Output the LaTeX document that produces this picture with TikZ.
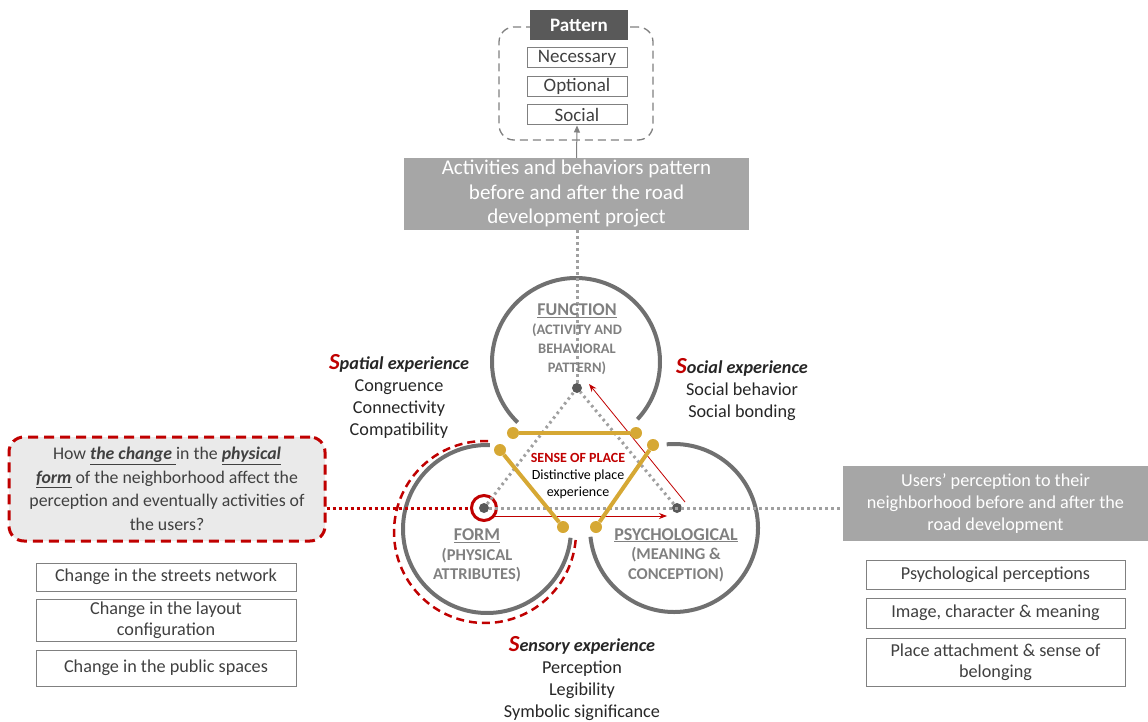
\documentclass[tikz,border=0pt]{standalone}
\usepackage{fontspec}
\setmainfont{Carlito}
\usepackage{xcolor}
\usepackage{tikz}
\usetikzlibrary{positioning,shapes,arrows.meta}

\definecolor{ringgray}{RGB}{112,112,112}
\definecolor{dotgray}{RGB}{160,160,160}
\definecolor{boxgray}{RGB}{166,166,166}
\definecolor{headgray}{RGB}{89,89,89}
\definecolor{darkred}{RGB}{192,0,0}
\definecolor{gold}{RGB}{214,168,52}
\definecolor{txtgray}{RGB}{64,64,64}
\definecolor{lblgray}{RGB}{128,128,128}
\definecolor{qfill}{RGB}{234,234,234}

\newcommand{\expHead}[2]{{\color{darkred}\fontsize{23}{22}\selectfont\bfseries\itshape #1}{\bfseries\itshape #2}}
\newcommand{\keyword}[1]{\underline{\textbf{\textit{#1}}}}
\newcommand{\ringHead}[1]{{\fontsize{18}{19}\selectfont\underline{#1}}}

\tikzset{
  greybox/.style={fill=boxgray, text=white, align=center, inner sep=0pt},
  listbox/.style={draw=lblgray, line width=1pt, text=txtgray, align=center, inner sep=0pt, font=\fontsize{18.2}{21.5}\selectfont},
  circlbl/.style={text=lblgray, align=center, font=\fontsize{16.5}{19.5}\selectfont\bfseries},
  exptext/.style={text=black!85, align=center, font=\fontsize{18.2}{22}\selectfont},
  ringline/.style={draw=ringgray, line width=4pt},
  dotline/.style={draw=dotgray, line width=3pt, dash pattern=on 2.5pt off 3.5pt},
  goldline/.style={draw=gold, line width=4pt},
  golddot/.style={circle, fill=gold, inner sep=0pt, minimum size=12pt},
  centredot/.style={circle, fill=headgray, inner sep=0pt, minimum size=10pt},
  redarrow/.style={draw=darkred, line width=0.8pt, -{Stealth[length=8pt,width=6pt]}}
}

\begin{document}
\begin{tikzpicture}[x=1pt, y=1pt, >=stealth]
  \useasboundingbox (0,0) rectangle (1148,-722);

  % pattern group
  \node[draw=lblgray, dashed, line width=1.3pt, dash pattern=on 8pt off 5pt, rounded corners=15pt, minimum width=154pt, minimum height=113pt] (patgroup) at (576,-83.5) {};
  \node[fill=headgray, text=white, font=\fontsize{19}{20}\selectfont\bfseries, minimum width=98pt, minimum height=30pt, inner sep=0pt] (pattern) at (579,-25) {Pattern};
  \node[listbox, minimum width=100pt, minimum height=20pt, font=\fontsize{19}{20}\selectfont] (necessary) at (577,-58) {Necessary};
  \node[listbox, minimum width=100pt, minimum height=20pt, font=\fontsize{19}{20}\selectfont, below=7.5pt of necessary] (optional) {Optional};
  \node[listbox, minimum width=100pt, minimum height=20pt, font=\fontsize{19}{20}\selectfont, below=7.5pt of optional] (social) {Social};

  \node[greybox, minimum width=345pt, minimum height=72pt, font=\fontsize{21}{24.5}\selectfont] (activity) at (576.5,-194) {Activities and behaviors pattern\\before and after the road\\development project};
  \draw[draw=lblgray, line width=1pt, -{Triangle[length=7pt,width=6pt]}] (activity.north) -- (social.south);

  % three rings
  \coordinate (cfun) at (576,-362);
  \coordinate (cform) at (487,-529);
  \coordinate (cpsy) at (674,-528);
  \draw[ringline] ([shift={(-43:84pt)}]cfun) arc[start angle=-43, end angle=226, radius=84pt];
  \draw[ringline] ([shift={(88:84pt)}]cform) arc[start angle=88, end angle=354, radius=84pt];
  \draw[ringline] ([shift={(186:84pt)}]cpsy) arc[start angle=186, end angle=455, radius=84pt];
  \draw[draw=darkred, line width=2.5pt, dash pattern=on 8pt off 5pt] ([shift={(88:91pt)}]485,-532) arc[start angle=88, end angle=356, radius=91pt];

  % side boxes
  \node[draw=darkred, line width=3pt, dash pattern=on 10pt off 6pt, rounded corners=15pt, fill=qfill, minimum width=316pt, minimum height=104pt, text=txtgray, align=center, inner sep=0pt, font=\fontsize{17.8}{23.5}\selectfont] (question) at (167,-489)
    {How \keyword{the change }in the \keyword{physical}\\\keyword{form} of the neighborhood affect the\\perception and eventually activities of\\the users?};
  \node[greybox, minimum width=305pt, minimum height=75pt, font=\fontsize{18.2}{22}\selectfont] (users) at (995.5,-503.5) {Users' perception to their\\neighborhood before and after the\\road development};

  % centre dots
  \node[centredot] (dfun) at (577,-388) {};
  \node[centredot] (dform) at (484,-508) {};
  \node[centredot] (dpsy) at (677,-508) {};
  \node[draw=darkred, circle, line width=3pt, minimum size=25pt, inner sep=0pt] (ring) at (dform) {};

  \draw[dotline] (dfun) -- (dfun |- activity.south);
  \draw[dotline] (dform) -- (dfun);
  \draw[dotline] (dpsy) -- (dfun);
  \draw[dotline] (dform) -- (dform -| users.west);
  \draw[draw=darkred, line width=3pt, dash pattern=on 3pt off 3pt] (dform -| question.east) -- (ring.west);

  \draw[redarrow] ([shift={(10pt,-8pt)}]dform.center) -- ([shift={(-10pt,-8pt)}]dpsy.center);
  \draw[redarrow] ([shift={(8pt,6pt)}]dpsy.center) -- ([shift={(12pt,4pt)}]dfun.center);

  % sense of place
  \node[golddot] (g1) at (513,-433) {};
  \node[golddot] (g2) at (636,-433) {};
  \node[golddot] (g3) at (500,-450) {};
  \node[golddot] (g4) at (563,-527) {};
  \node[golddot] (g5) at (653,-445) {};
  \node[golddot] (g6) at (596,-527) {};
  \draw[goldline] (g1) -- (g2);
  \draw[goldline] (g3) -- (g4);
  \draw[goldline] (g5) -- (g6);
  \node[align=center, font=\fontsize{14}{17}\selectfont] (sense) at (578,-476) {{\color{darkred}\bfseries SENSE OF PLACE}\\Distinctive place\\experience};

  % ring labels
  \node[circlbl, font=\fontsize{14.5}{19}\selectfont\bfseries] (function) at (577,-339) {\ringHead{FUNCTION}\\(ACTIVITY AND\\BEHAVIORAL\\PATTERN)};
  \node[circlbl] (form) at (477,-555.5) {\ringHead{FORM}\\(PHYSICAL\\ATTRIBUTES)};
  \node[circlbl] (psych) at (676,-555) {\ringHead{PSYCHOLOGICAL}\\(MEANING \&\\CONCEPTION)};

  % experiences
  \node[exptext] (spatial) at (399,-396.5) {\expHead{S}{patial experience}\\Congruence\\Connectivity\\Compatibility};
  \node[exptext] (socialexp) at (742,-390) {\expHead{S}{ocial experience}\\Social behavior\\Social bonding};
  \node[exptext] (sensory) at (582,-679) {\expHead{S}{ensory experience}\\Perception\\Legibility\\Symbolic significance};

  % lists
  \node[listbox, minimum width=260pt, minimum height=28pt] (streets) at (166,-577) {Change in the streets network};
  \node[listbox, minimum width=260pt, minimum height=42pt, below=7pt of streets] (layout) {Change in the layout\\configuration};
  \node[listbox, minimum width=260pt, minimum height=36pt, below=8pt of layout] (public) {Change in the public spaces};
  \node[listbox, minimum width=259pt, minimum height=29pt] (perceptions) at (995.5,-574.5) {Psychological perceptions};
  \node[listbox, minimum width=259pt, minimum height=30pt, below=8pt of perceptions] (image) {Image, character \& meaning};
  \node[listbox, minimum width=259pt, minimum height=48pt, below=9pt of image] (attach) {Place attachment \& sense of\\belonging};
\end{tikzpicture}
\end{document}
